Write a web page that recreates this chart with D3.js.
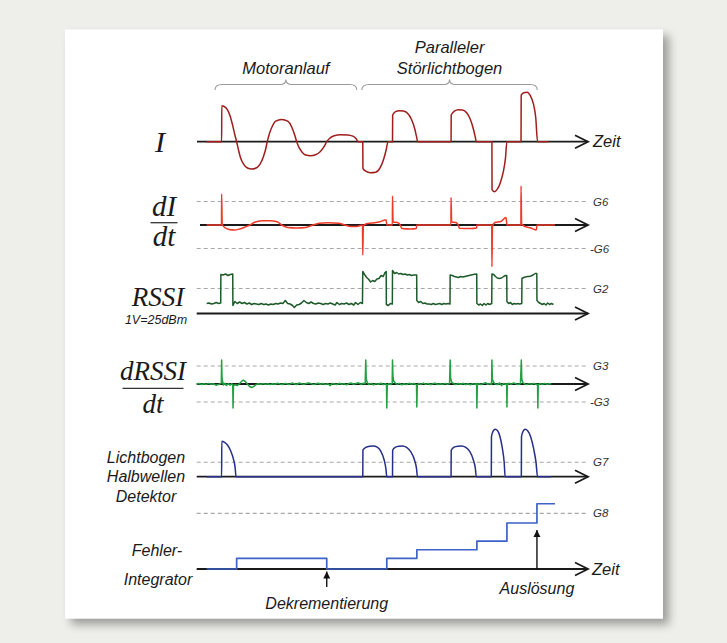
<!DOCTYPE html>
<meta charset="utf-8">
<style>
body { margin: 0; background: #eeeeea; }
text { font-family: "Liberation Sans", Arial, sans-serif; font-style: italic; fill: #1a1a1a; }
.serif { font-family: "Liberation Serif", "DejaVu Serif", "Times New Roman", serif; font-style: italic; }
.thr { font-size: 11.5px; fill: #333; }
</style>
<body>
<svg width="727" height="643"></svg>
<script src="https://cdn.jsdelivr.net/npm/d3@7"></script>
<script>
// time in ms, half-wave = 10 ms
var currentI = [[0,0],[5,0],[5.05,36],[5.8,35.3],[6.8,32.5],[7.8,26],[8.7,16],[9.4,7],[10,0],[10.6,-8],[11.3,-16],[12.3,-22.5],[13.6,-26.3],[15,-27.3],[16.5,-26.3],[17.8,-22.5],[18.9,-15],[19.7,-7],[20.2,0],[20.9,8],[21.8,15],[23,20.5],[25,22.3],[27,20.5],[28.3,15],[29.3,7],[30,0],[30.8,-6],[31.8,-10.5],[33,-13.3],[34.6,-14],[36.3,-13],[37.8,-10],[39,-5.5],[40,0],[41,3.5],[42.5,6],[44.5,6.9],[47,6.8],[48.7,5.5],[49.8,3],[50.5,0],[52,0],[52.05,-26.6],[53,-29.5],[54.5,-31],[56.3,-30.5],[57.8,-26],[59,-17],[59.8,-8],[60.4,0],[61.9,0],[61.95,26.7],[62.9,30],[64.2,31],[65.5,30.7],[66.9,28.5],[68.2,22.5],[69.3,13],[69.9,5],[70.3,0],[81.4,0],[81.45,26.7],[82.5,30.5],[83.8,32],[85.2,31.7],[86.6,29],[87.8,22.5],[88.9,12],[89.5,4],[89.8,0],[95,0],[95.05,-48],[95.8,-50],[96.8,-47.5],[97.8,-41],[98.8,-30],[99.5,-17],[100,0],[104.7,0],[104.75,46.7],[105.6,49],[106.7,49.4],[107.8,46],[108.8,38],[109.6,24],[110.2,0],[113.8,0]];

var dIdt = [[0,0],[4.95,0],[5,31],[5.2,1],[6,-2.5],[7.5,-4.5],[9.3,-5],[11,-4],[12.8,-2],[14.4,0],[16,2.8],[18.5,4.2],[21,4.3],[23.5,3.2],[25,0],[27,-2.5],[30,-3],[33,-2.5],[35.4,0],[37.5,1.8],[40.5,2.3],[44,1.8],[46,0],[48,-1.5],[50,-1.5],[51.9,0],[52,-30],[52.2,-1],[53,1],[55,2],[57.5,3],[59.5,5],[59.8,5],[60,0],[61.85,0],[61.9,29],[62.1,3],[63.5,2.5],[64.5,0],[65,-3.5],[68,-4],[69.8,-3.5],[70,0],[81.35,0],[81.4,27.6],[81.6,3],[83,2.5],[83.8,0],[84.2,-3.2],[88,-3.5],[89.9,-3],[90,0],[94.95,0],[95,-41.7],[95.2,-1],[96,2.5],[98,3.5],[99.7,7.5],[100,0],[104.65,0],[104.7,39],[104.9,1],[106,-1.5],[108,-3],[109.8,-5],[110,0],[116,0]];

// RSSI in V (1V = 25dBm)
var rssi = [[0,1.0],[0.8,1.05],[1.6,0.95],[2.4,1.0],[3.2,1.1],[4,1.0],[4.7,1.05],
[4.75,3.9],[5.5,3.85],[6.3,3.95],[7.1,3.8],[7.9,3.9],[8.7,3.95],
[8.75,0.8],[9.4,1.2],[10.2,1.0],[11,1.15],[11.8,1.0],[12.6,1.1],[13.4,0.95],[14.2,1.05],[15,0.9],[15.8,1.0],[16.6,0.95],[17.4,0.9],[18.2,1.0],[19,0.9],[19.8,0.95],[20.6,0.85],[21.4,0.95],[22.2,0.9],[23,1.0],[23.8,0.95],[24.6,1.05],[25.4,1.0],[26.2,1.3],[27,1.0],[27.8,0.95],[28.6,0.8],[29.2,0.6],[30,0.85],[30.8,0.9],[31.6,1.05],[32.4,1.3],[33.2,1.1],[34,1.0],[34.8,1.15],[35.6,1.0],[36.4,0.95],[37.2,1.05],[38,1.0],[38.8,0.9],[39.6,1.0],[40.4,0.95],[41.2,1.05],[42,0.95],[42.8,0.85],[43.4,1.1],[44.2,0.9],[45,1.0],[45.8,0.95],[46.6,1.05],[47.4,0.9],[48.2,1.0],[49,0.85],[49.6,1.1],[50.4,0.9],[51.2,1.1],[51.9,1.0],
[52,4.2],[52.6,3.9],[53.3,3.6],[54,3.4],[54.6,3.15],[55.3,3.3],[56,3.2],[56.7,3.45],[57.4,3.5],[58.1,3.8],[58.8,3.7],[59.4,4.1],[59.8,4.2],
[59.85,0.9],[60.5,0.8],[61.2,1.0],[61.85,0.95],
[61.9,4.3],[62.6,4.0],[63.3,4.1],[64,3.95],[64.7,4.0],[65.4,3.9],[66.1,3.95],[66.8,3.85],[67.5,3.9],[68.2,3.8],[68.9,3.85],[69.95,3.85],
[70,1.3],[70.6,1.1],[71.3,1.2],[72,1.0],[72.7,1.05],[73.4,0.95],[74.1,0.95],[74.8,0.9],[75.5,1.0],[76.2,0.9],[76.9,0.95],[77.6,1.0],[78.3,0.9],[79,1.0],[79.7,0.95],[80.4,1.0],[81.05,0.95],
[81.1,3.85],[81.8,3.8],[82.5,3.7],[83.2,3.65],[83.9,3.6],[84.6,3.7],[85.3,3.65],[86,3.7],[86.7,3.75],[87.4,3.8],[88.1,3.85],[88.8,3.9],[89.95,3.95],
[90,1.0],[90.6,0.85],[91.2,0.95],[91.8,0.8],[92.4,1.0],[93,0.85],[93.6,1.0],[94.2,0.9],[94.95,1.0],
[95,3.95],[95.6,3.9],[96.2,3.7],[96.8,3.55],[97.5,3.5],[98.2,3.55],[98.9,3.7],[99.5,3.8],[99.95,3.8],
[100,1.2],[100.6,1.0],[101.2,1.1],[101.8,0.9],[102.4,1.0],[103,0.95],[103.6,1.0],[104.2,0.95],[104.95,1.0],
[105,3.5],[105.6,3.6],[106.2,3.65],[106.8,3.7],[107.4,3.7],[108,3.75],[108.7,3.85],[109.4,4.0],[109.95,4.0],
[110,1.3],[110.6,1.1],[111.2,1.0],[111.8,0.9],[112.4,1.0],[113,0.85],[113.6,1.05],[114.2,0.9],[114.8,1.0],[115.5,0.9]];

var dRssi = [[-3.3,0],[-2.5,0.5],[-1.7,-0.5],[-0.9,0.3],[-0.1,-0.4],[0.7,0.6],[1.5,-0.3],[2.3,0.2],[3.1,-1.2],[3.9,-0.6],[4.6,0.4],[4.9,1],[5,24],[5.15,5],[5.6,-1],[6.1,0.8],[6.6,-1.5],[7.2,0.5],[7.8,-1.2],[8.4,0.3],[8.7,-1],[8.8,-24],[8.95,-1.5],[9.6,-0.8],[10.3,-1.5],[11,0.5],[11.6,2.5],[12.2,3.8],[12.9,2.5],[13.6,0],[14.3,-2.5],[15,-3.5],[15.7,-2.5],[16.4,-0.8],[17.2,0.2],[18,-0.3],
[18.8,0.4],[19.6,-0.3],[20.4,0.2],[21.2,-0.6],[22,0.3],[22.8,-0.2],[23.6,0.8],[24.4,0.1],[25.2,-0.5],[26,0.6],[26.8,0.2],[27.6,-0.4],[28.4,0.9],[29.2,0.3],[30,-0.5],[30.8,1.0],[31.6,0.2],[32.4,-0.3],[33.2,0.5],[34,1.1],[34.8,0.4],[35.6,-0.6],[36.4,0.3],[37.2,0.8],[38,-0.2],[38.8,0.5],[39.6,-0.4],[40.4,0.2],[41.2,-1.6],[41.8,0.6],[42.6,0.1],[43.4,-0.5],[44.2,0.7],[45,-0.3],[45.8,0.4],[46.6,-0.8],[47.4,0.5],[48.2,0.9],[49,-0.2],[49.8,0.6],[50.6,1.2],[51.4,-0.5],[52.2,0.8],[52.8,0.3],
[53,24],[53.15,5],[53.5,1.5],[54,-0.5],[54.8,0.7],[55.6,-0.9],[56.4,0.4],[57.2,-0.3],[58,0.8],[58.8,-0.6],[59.5,0.3],[59.9,-0.5],[60,-24],[60.15,-1.5],[60.6,0.4],[61.2,-0.5],[61.8,0.6],
[61.9,24],[62.05,8],[62.3,3],[62.8,1.0],[63.4,-0.4],[64.2,0.6],[65,-0.8],[65.8,0.3],[66.6,-0.5],[67.4,0.7],[68.2,-0.3],[69,0.5],[69.7,-0.6],[69.9,-1],[70,-23],[70.15,-1.2],[70.6,0.6],[71.4,-0.4],[72.2,0.9],[73,-0.3],[73.8,0.5],[74.6,-0.7],[75.4,0.4],[76.2,0.8],[77,-0.5],[77.8,0.3],[78.6,-0.4],[79.4,0.6],[80.2,-0.3],[80.9,0.4],
[81.1,24],[81.25,6],[81.6,2],[82.2,0.4],[83,-0.6],[83.8,0.5],[84.6,-0.3],[85.4,0.7],[86.2,-0.5],[87,0.3],[87.8,-0.8],[88.6,0.4],[89.4,-0.4],[89.9,0.5],[90,-24],[90.15,-1],[90.6,0.5],[91.4,-0.7],[92.2,0.6],[93,1.2],[93.6,-0.3],[94.4,0.5],[94.9,-0.4],
[95,24],[95.15,5],[95.5,2],[96,0.3],[96.8,-0.5],[97.6,1.0],[98.2,-1.6],[98.8,0.4],[99.5,-0.3],[99.9,0.4],[100,-23],[100.15,-1],[100.6,0.8],[101.4,-0.4],[102.2,1.1],[103,0.3],[103.8,-0.6],[104.5,0.5],
[104.8,24],[104.95,5],[105.3,1.5],[105.8,0.2],[106.6,-0.6],[107.4,0.4],[108.2,-0.3],[109,0.6],[109.8,-0.5],[110.2,-0.3],[110.3,-24],[110.45,-1.2],[111,0.5],[111.8,-0.4],[112.6,0.6],[113.4,-0.3],[114.2,0.4],[114.8,0]];

var detector = [[0,0],[5,0],[5.05,35.5],[6,34.3],[7,31.5],[8,26],[8.9,18],[9.5,9],[9.8,0],[52,0],[52.05,26.5],[53,29.3],[54.3,30.5],[55.5,30.7],[56.8,29.5],[58,25.5],[59.1,17],[59.7,8],[60,0],[61.9,0],[61.95,26.5],[62.9,29.5],[64,30.5],[65.2,30.7],[66.6,29.3],[67.9,25.3],[69.2,17],[69.9,8],[70.2,0],[81.4,0],[81.45,26.5],[82.4,29.5],[83.6,30.5],[84.9,30.7],[86.3,29.3],[87.6,25.3],[88.8,17],[89.5,8],[89.8,0],[94.8,0],[94.85,40],[95.4,45.5],[96.1,47.4],[96.9,46],[97.7,40],[98.5,28],[99.1,14],[99.4,0],[104.8,0],[104.85,40],[105.4,45.5],[106.1,47.4],[106.9,46],[107.9,40],[108.9,28],[109.7,14],[110.2,0],[114.7,0]];

var faultSteps = [[0,0],[10,1],[40,0],[60,1],[70,1.8],[90,2.6],[100,4.3],[110,6.1],[116,6.1]];

var thresholds = {G6: 23.5, G2: 2.5, G3: 18, G7: 14.4, G8: 5.2};
var braces = [{from: 2.8, to: 50, label: ["Motoranlauf"]}, {from: 51.7, to: 110.1, label: ["Paralleler", "Störlichtbogen"]}];
var marks = [{t: 40, label: "Dekrementierung"}, {t: 110, label: "Auslösung"}];

var svg = d3.select("svg");

var defs = svg.append("defs");
var f = defs.append("filter").attr("id", "sh").attr("x", "-5%").attr("y", "-5%").attr("width", "115%").attr("height", "115%");
f.append("feGaussianBlur").attr("in", "SourceAlpha").attr("stdDeviation", 5);
f.append("feOffset").attr("dx", 6).attr("dy", 6).attr("result", "b");
f.append("feComponentTransfer").append("feFuncA").attr("type", "linear").attr("slope", 0.35);
var fm = f.append("feMerge");
fm.append("feMergeNode");
fm.append("feMergeNode").attr("in", "SourceGraphic");

svg.append("rect").attr("x", 65).attr("y", 29.5).attr("width", 598).attr("height", 589)
    .attr("fill", "#fff").attr("filter", "url(#sh)");

var x = d3.scaleLinear().domain([-3.2, 127]).range([197, 588]);
var xEnd = 588;

function panel(axisY, lo, hi, pxPerUnit) {
  return d3.scaleLinear().domain([lo, hi]).range([axisY - lo * pxPerUnit, axisY - hi * pxPerUnit]);
}
var yI = panel(141.7, -55, 55, 1),
    yD = panel(225, -45, 45, 1),
    yR = panel(313.5, 0, 4.5, 10),
    yDR = panel(384, -25, 25, 1),
    yH = panel(476.7, 0, 50, 1),
    yF = panel(569, 0, 7, 10.7);

function axis(y0, x0) {
  var g = svg.append("g").attr("stroke", "#1a1a1a").attr("stroke-width", 1.8).attr("fill", "none");
  g.append("line").attr("x1", x0).attr("x2", xEnd).attr("y1", y0).attr("y2", y0);
  g.append("path").attr("d", "M" + (xEnd - 13) + "," + (y0 - 6.5) + "L" + xEnd + "," + y0 + "L" + (xEnd - 13) + "," + (y0 + 6.5));
}
function dashed(y0, label) {
  svg.append("line").attr("x1", 196.7).attr("x2", 586.7).attr("y1", y0).attr("y2", y0)
    .attr("stroke", "#a8a8a8").attr("stroke-width", 1.1).attr("stroke-dasharray", "4,3");
  svg.append("text").attr("class", "thr").attr("x", label[0] == "-" ? 590 : 593).attr("y", y0 + 4).text(label);
}
function trace(data, y, color, curve, w) {
  svg.append("path").datum(data)
    .attr("fill", "none").attr("stroke", color).attr("stroke-width", w || 1.5).attr("stroke-linejoin", "round")
    .attr("d", d3.line().x(function(d) { return x(d[0]); }).y(function(d) { return y(d[1]); }).curve(curve));
}

// thresholds
dashed(yD(thresholds.G6), "G6");
dashed(yD(-thresholds.G6), "-G6");
dashed(yR(thresholds.G2), "G2");
dashed(yDR(thresholds.G3), "G3");
dashed(yDR(-thresholds.G3), "-G3");
dashed(yH(thresholds.G7), "G7");
dashed(yF(thresholds.G8), "G8");

// axes
axis(yI(0), 197);
axis(yD(0), 200);
axis(yR(0), 196.7);
axis(yDR(0), 196.7);
axis(yH(0), 196.7);
axis(yF(0), 196.7);

// traces
trace(currentI, yI, "#a11d1d", d3.curveMonotoneX);
trace(dIdt, yD, "#ef3a2a", d3.curveMonotoneX);
trace(rssi, yR, "#1f5a2b", d3.curveLinear);
trace(dRssi, yDR, "#23a043", d3.curveLinear);
trace(detector, yH, "#272f8c", d3.curveMonotoneX);
trace(faultSteps, yF, "#3d62c8", d3.curveStepAfter, 1.7);

// axis titles
svg.append("text").attr("x", 593).attr("y", yI(0) + 5.5).style("font-size", "16.5px").text("Zeit");
svg.append("text").attr("x", 592).attr("y", yF(0) + 5.5).style("font-size", "16.5px").text("Zeit");

function label(txt, cx, y, size, cls) {
  return svg.append("text").attr("class", cls || null).attr("x", cx).attr("y", y)
    .attr("text-anchor", "middle").style("font-size", size + "px").style("font-style", "italic").text(txt);
}
function frac(top, cx, yTop, yLine, yBot, w, size) {
  label(top, cx, yTop, size, "serif");
  svg.append("line").attr("x1", cx - w / 2).attr("x2", cx + w / 2).attr("y1", yLine).attr("y2", yLine)
    .attr("stroke", "#333").attr("stroke-width", 1.3);
  label("dt", cx, yBot, size, "serif");
}
label("I", 160, 152, 30, "serif");
frac("dI", 164, 216, 222.7, 246, 27, 29);
label("RSSI", 158, 306, 27, "serif");
label("1V=25dBm", 156, 324, 12.5);
frac("dRSSI", 153, 380, 388.3, 413, 61, 27);
label("Lichtbogen", 146, 462.5, 16);
label("Halbwellen", 146, 482, 16);
label("Detektor", 146, 502, 16);
label("Fehler-", 157, 555.5, 16);
label("Integrator", 158, 584.5, 16);

// braces
braces.forEach(function(b) {
  var x0 = x(b.from), x1 = x(b.to), xm = (x0 + x1) / 2, yb = 90, yh = 84.5, yt = 79.5;
  svg.append("path").attr("fill", "none").attr("stroke", "#9a9a9a").attr("stroke-width", 1.1)
    .attr("d", "M" + x0 + "," + yb + "Q" + x0 + "," + yh + " " + (x0 + 7) + "," + yh +
      "L" + (xm - 6) + "," + yh + "Q" + xm + "," + yh + " " + xm + "," + yt +
      "Q" + xm + "," + yh + " " + (xm + 6) + "," + yh + "L" + (x1 - 7) + "," + yh +
      "Q" + x1 + "," + yh + " " + x1 + "," + yb);
  b.label.forEach(function(s, i) {
    label(s, xm, 74 - (b.label.length - 1 - i) * 21, 16.5);
  });
});

// event arrows
defs.append("marker").attr("id", "ah").attr("viewBox", "0 0 10 10").attr("refX", 10).attr("refY", 5)
  .attr("markerWidth", 7).attr("markerHeight", 8).attr("markerUnits", "userSpaceOnUse").attr("orient", "auto")
  .append("path").attr("d", "M0,0L10,5L0,10Z").attr("fill", "#111");
svg.append("line").attr("x1", x(marks[0].t)).attr("x2", x(marks[0].t)).attr("y1", 587).attr("y2", 571.5)
  .attr("stroke", "#111").attr("stroke-width", 1.4).attr("marker-end", "url(#ah)");
label(marks[0].label, x(marks[0].t), 609, 16);
svg.append("line").attr("x1", x(marks[1].t)).attr("x2", x(marks[1].t)).attr("y1", 570).attr("y2", 530)
  .attr("stroke", "#111").attr("stroke-width", 1.4).attr("marker-end", "url(#ah)");
label(marks[1].label, x(marks[1].t), 594, 16);
</script>
</body>
